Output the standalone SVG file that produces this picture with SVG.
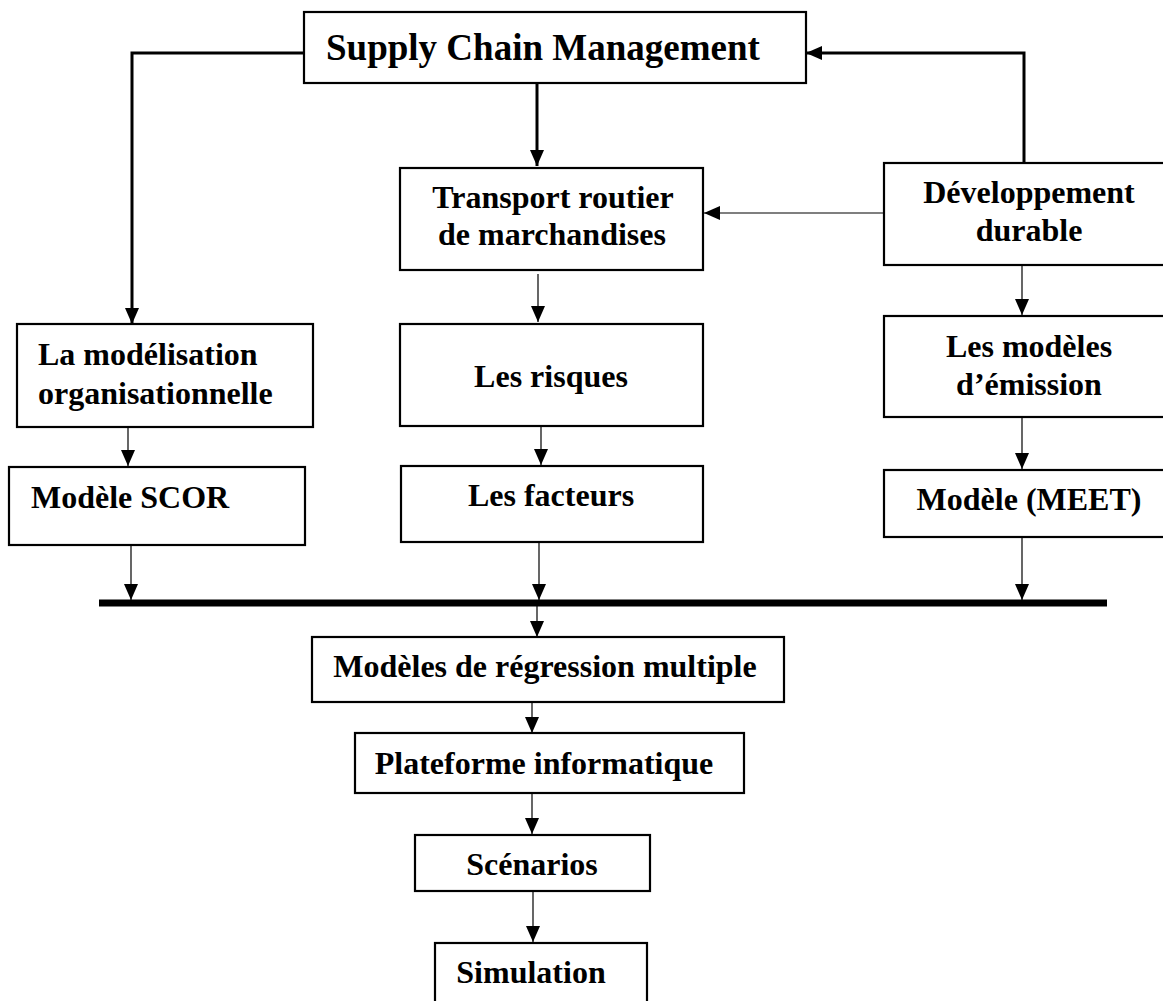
<svg xmlns="http://www.w3.org/2000/svg" width="1163" height="1001" viewBox="0 0 1163 1001">
<style>
.box{fill:#fff;stroke:#000;stroke-width:2.2}
.t{font-family:"Liberation Serif","Times New Roman",serif;font-weight:bold;font-size:32px;fill:#000}
.c{text-anchor:middle}
.thin{fill:none;stroke:#000;stroke-width:1.2}
.thick{fill:none;stroke:#000;stroke-width:3}
</style>
<defs>
<marker id="ah" markerUnits="userSpaceOnUse" markerWidth="16" markerHeight="14" refX="16" refY="7" orient="auto">
<path d="M0,0 L16,7 L0,14 z" fill="#000"/>
</marker>
</defs>
<rect width="1163" height="1001" fill="#fff"/>
<g id="connectors">
<path class="thick" d="M304,53 H132 V324" marker-end="url(#ah)"/>
<path class="thick" d="M537,84 V166" marker-end="url(#ah)"/>
<path class="thick" d="M1024,163 V53 H806" marker-end="url(#ah)"/>
<path class="thin" d="M884,213 H704" marker-end="url(#ah)"/>
<path class="thin" d="M538,274 V322" marker-end="url(#ah)"/>
<path class="thin" d="M541,426 V465" marker-end="url(#ah)"/>
<path class="thin" d="M1022,266 V315" marker-end="url(#ah)"/>
<path class="thin" d="M1022,417 V469" marker-end="url(#ah)"/>
<path class="thin" d="M128,427 V466" marker-end="url(#ah)"/>
<path class="thin" d="M131,545 V600" marker-end="url(#ah)"/>
<path class="thin" d="M539,542 V600" marker-end="url(#ah)"/>
<path class="thin" d="M1022,537 V600" marker-end="url(#ah)"/>
<line x1="99" y1="603" x2="1107" y2="603" stroke="#000" stroke-width="7"/>
<path class="thin" d="M537,606 V637" marker-end="url(#ah)"/>
<path class="thin" d="M532,702 V733" marker-end="url(#ah)"/>
<path class="thin" d="M532,793 V834" marker-end="url(#ah)"/>
<path class="thin" d="M533,891 V942" marker-end="url(#ah)"/>
</g>
<g id="scm">
<rect class="box" x="304" y="12" width="502" height="71"/>
<text class="t" x="326" y="60" style="font-size:37px">Supply Chain Management</text>
</g>
<g id="transport">
<rect class="box" x="400" y="168" width="303" height="102"/>
<text class="t c" x="553" y="208">Transport routier</text>
<text class="t c" x="552" y="245">de marchandises</text>
</g>
<g id="developpement">
<rect class="box" x="884" y="163" width="290" height="102"/>
<text class="t c" x="1029" y="203">Développement</text>
<text class="t c" x="1029" y="241">durable</text>
</g>
<g id="modelisation">
<rect class="box" x="17" y="324" width="296" height="103"/>
<text class="t" x="38" y="365">La modélisation</text>
<text class="t" x="38" y="404">organisationnelle</text>
</g>
<g id="risques">
<rect class="box" x="400" y="324" width="303" height="102"/>
<text class="t c" x="551" y="387">Les risques</text>
</g>
<g id="emission">
<rect class="box" x="884" y="316" width="290" height="101"/>
<text class="t c" x="1029" y="357">Les modèles</text>
<text class="t c" x="1029" y="395">d’émission</text>
</g>
<g id="scor">
<rect class="box" x="9" y="467" width="296" height="78"/>
<text class="t" x="31" y="508">Modèle SCOR</text>
</g>
<g id="facteurs">
<rect class="box" x="401" y="466" width="302" height="76"/>
<text class="t c" x="551" y="506">Les facteurs</text>
</g>
<g id="meet">
<rect class="box" x="884" y="470" width="290" height="67"/>
<text class="t c" x="1029" y="510">Modèle (MEET)</text>
</g>
<g id="regression">
<rect class="box" x="312" y="637" width="472" height="65"/>
<text class="t c" x="545" y="677">Modèles de régression multiple</text>
</g>
<g id="plateforme">
<rect class="box" x="355" y="733" width="389" height="60"/>
<text class="t c" x="544" y="774">Plateforme informatique</text>
</g>
<g id="scenarios">
<rect class="box" x="415" y="835" width="235" height="56"/>
<text class="t c" x="532" y="875">Scénarios</text>
</g>
<g id="simulation">
<rect class="box" x="435" y="943" width="212" height="70"/>
<text class="t c" x="531" y="983">Simulation</text>
</g>
</svg>
